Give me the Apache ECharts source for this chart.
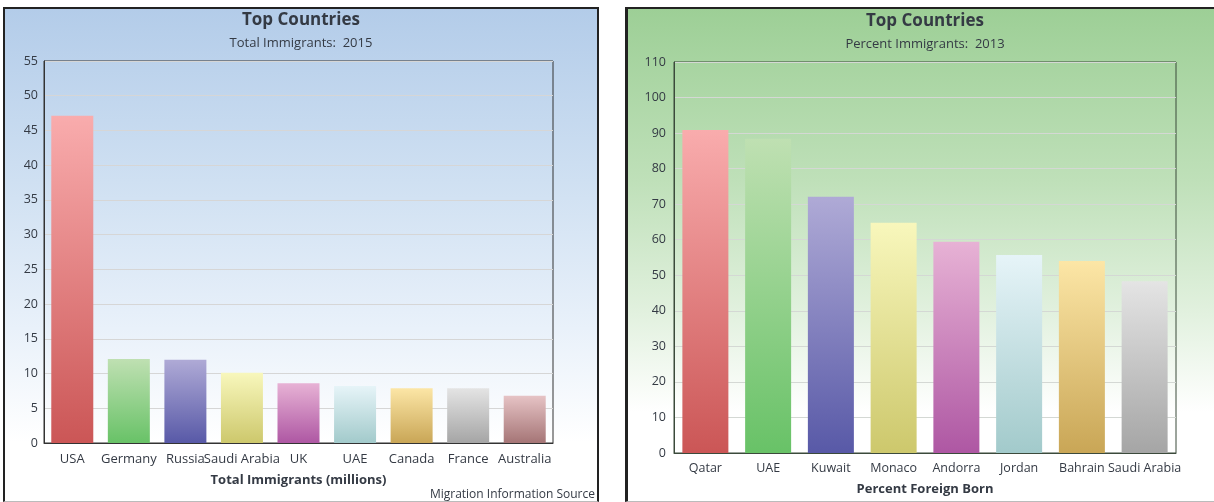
<!DOCTYPE html>
<html>
<head>
<meta charset="utf-8">
<script src="https://cdn.jsdelivr.net/npm/echarts@6/dist/echarts.min.js"></script>
<style>
  html, body { margin:0; padding:0; width:1214px; height:502px; overflow:hidden; background:#fff; }
  #L { position:absolute; left:3px; top:7px; width:592px; height:492px;
       border:2px solid #222; border-bottom:1px solid #bbb;
       background:linear-gradient(to bottom, #b3cce9 0%, #cfe0f2 35%, #e9f1fa 65%, #ffffff 88%); }
  #R { position:absolute; left:625px; top:7px; width:594px; height:492px;
       border-left:3px solid #222; border-top:2px solid #222; border-bottom:1px solid #bbb;
       background:linear-gradient(to bottom, #9dcf96 0%, #bfe0b9 35%, #e2f1df 62%, #ffffff 82%); }
</style>
</head>
<body>
<div id="L"></div>
<div id="R"></div>
<script>
// ---- data ----
const leftTitle = 'Top Countries';
const leftSubtitle = 'Total Immigrants:  2015';
const leftAxisName = 'Total Immigrants (millions)';
const leftCategories = ['USA', 'Germany', 'Russia', 'Saudi Arabia', 'UK', 'UAE', 'Canada', 'France', 'Australia'];
const leftValues = [47.1, 12.1, 12.0, 10.1, 8.6, 8.2, 7.9, 7.9, 6.8];

const rightTitle = 'Top Countries';
const rightSubtitle = 'Percent Immigrants:  2013';
const rightAxisName = 'Percent Foreign Born';
const rightCategories = ['Qatar', 'UAE', 'Kuwait', 'Monaco', 'Andorra', 'Jordan', 'Bahrain', 'Saudi Arabia'];
const rightValues = [90.9, 88.4, 72.1, 64.8, 59.4, 55.7, 54.0, 48.3];

const sourceText = 'Migration Information Source';

// ---- styles ----
const palette = [
  ['#f9acad', '#cb5656'],
  ['#bfe0b2', '#68c267'],
  ['#afaad6', '#5859a7'],
  ['#f8f7bc', '#cdc86c'],
  ['#e7b2d5', '#ae57a3'],
  ['#e6f4f8', '#a2cacb'],
  ['#fce6a6', '#c9a656'],
  ['#e4e4e4', '#a5a5a5'],
  ['#e6c3c5', '#a57576']
];
const FONT = '"Open Sans", "Noto Sans", sans-serif';
const TEXT = '#343a44';

function gradient(i) {
  const c = palette[i % palette.length];
  return new echarts.graphic.LinearGradient(0, 0, 0, 1, [
    { offset: 0, color: c[0] },
    { offset: 1, color: c[1] }
  ]);
}

function buildOption(cfg) {
  return {
    backgroundColor: 'transparent',
    animation: false,
    textStyle: { fontFamily: FONT },
    grid: {
      left: cfg.grid[0], top: cfg.grid[1], width: cfg.grid[2], height: cfg.grid[3],
      show: true, borderColor: cfg.border, borderWidth: 1, backgroundColor: 'transparent'
    },
    graphic: cfg.graphic,
    xAxis: {
      type: 'category',
      data: cfg.categories,
      axisLine: { show: true, lineStyle: { color: cfg.border, width: 1 } },
      axisTick: { show: false },
      axisLabel: { interval: 0, hideOverlap: false, margin: cfg.xMargin, color: TEXT, fontSize: cfg.xFont, fontFamily: FONT },
      name: cfg.axisName,
      nameLocation: 'middle',
      nameGap: cfg.nameGap,
      nameTextStyle: { color: TEXT, fontSize: 13, fontWeight: 'bold', fontFamily: FONT }
    },
    yAxis: {
      type: 'value',
      min: 0, max: cfg.max, interval: cfg.interval,
      axisLine: { show: true, lineStyle: { color: cfg.border, width: 1 } },
      axisTick: { show: false },
      axisLabel: { margin: cfg.labelMargin, color: TEXT, fontSize: 12.5, fontFamily: FONT },
      splitLine: { show: true, lineStyle: { color: cfg.gridColor, width: 1 } }
    },
    series: [{
      type: 'bar',
      barWidth: cfg.barWidth,
      data: cfg.values.map((v, i) => ({ value: v, itemStyle: { color: gradient(i) } }))
    }]
  };
}

function titleGraphic(cx, title, subtitle, yt, ys) {
  return [
    { type: 'text', x: cx, y: yt, style: { text: title, fill: TEXT, font: 'bold 17px ' + FONT, textAlign: 'center', textVerticalAlign: 'middle' } },
    { type: 'text', x: cx, y: ys, style: { text: subtitle, fill: TEXT, font: '13px ' + FONT, textAlign: 'center', textVerticalAlign: 'middle' } }
  ];
}

const left = echarts.init(document.getElementById('L'), null, { renderer: 'canvas' });
left.setOption(buildOption({
  categories: leftCategories, values: leftValues, axisName: leftAxisName,
  grid: [39, 52, 509, 382], max: 55, interval: 5, barWidth: 42,
  border: '#333', gridColor: '#d6d6d6', labelMargin: 6, xMargin: 10, xFont: 13, nameGap: 31,
  graphic: titleGraphic(296, leftTitle, leftSubtitle, 11, 34).concat([
    { type: 'text', x: 590, y: 486, style: { text: sourceText, fill: TEXT, font: '12px ' + FONT, textAlign: 'right', textVerticalAlign: 'middle' } }
  ])
}));

const right = echarts.init(document.getElementById('R'), null, { renderer: 'canvas' });
right.setOption(buildOption({
  categories: rightCategories, values: rightValues, axisName: rightAxisName,
  grid: [46, 53, 502, 391], max: 110, interval: 10, barWidth: 46,
  border: '#3b4a3b', gridColor: '#d4d8d4', labelMargin: 8, xMargin: 9, xFont: 12.5, nameGap: 30,
  graphic: titleGraphic(297, rightTitle, rightSubtitle, 12, 35)
}));
</script>
</body>
</html>
